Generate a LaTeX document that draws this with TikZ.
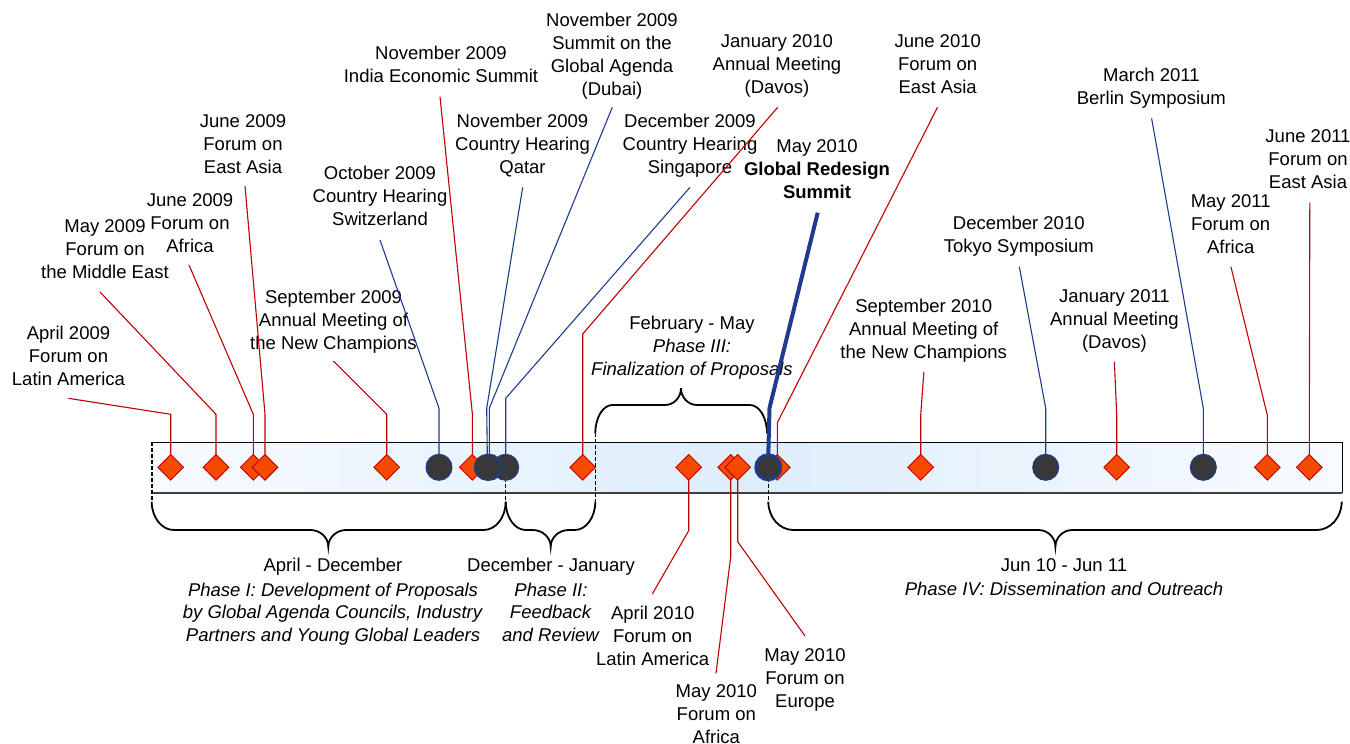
\documentclass[tikz,border=0pt]{standalone}
\usepackage{fontspec}
\setmainfont{Liberation Sans}
\usetikzlibrary{shapes.geometric}
\definecolor{dred}{HTML}{C00000}
\definecolor{dfill}{HTML}{F54A00}
\definecolor{navy}{HTML}{1F3B8F}
\definecolor{cfill}{HTML}{383838}
\definecolor{barmid}{HTML}{DDEDFA}
\definecolor{barside}{HTML}{F8FBFF}
\definecolor{barbot}{HTML}{404040}
\tikzset{
  lbl/.style={align=center, inner sep=0pt, anchor=north, font=\fontsize{18.5}{23}\selectfont},
  plbl/.style={align=center, inner sep=0pt, anchor=north, font=\fontsize{18.5}{22.5}\selectfont},
  dia/.style={shape=diamond, draw=dred, fill=dfill, minimum width=26pt, minimum height=26pt, inner sep=0pt, line width=0.9pt},
  evt/.style={circle, draw=navy, fill=cfill, minimum size=26pt, inner sep=0pt, line width=1pt},
  bigevt/.style={circle, draw=navy, fill=cfill, minimum size=25pt, inner sep=0pt, line width=3pt},
  rl/.style={draw=dred, line width=1.1pt},
  bl/.style={draw=navy, line width=1.1pt},
  thickbl/.style={draw=navy, line width=4pt, line join=round},
  brace/.style={draw=black, line width=1.8pt},
  sepline/.style={draw=black, line width=1.4pt, dash pattern=on 4pt off 2pt},
  bar/.style={anchor=north west, inner sep=0pt, minimum width=1189.7pt, minimum height=50pt,
    left color=barside, right color=barside, middle color=barmid},
}
\begin{document}
\begin{tikzpicture}[x=1pt,y=-1pt]
\useasboundingbox (0,0) rectangle (1350,744);
% bar
\node[bar] (bar) at (152,442.3) {};
\draw[black, line width=1pt] (bar.south east) -- (bar.north east) -- (bar.north west);
\draw[barbot, line width=2pt] (bar.south west) -- (bar.south east);
% separators
\draw[sepline] (152,442.3) -- (152,501.7);
\draw[sepline] (505.7,442.3) -- (505.7,501.7);
\draw[sepline] (595.3,433.3) -- (595.3,501.7);
\draw[sepline] (768.3,442.3) -- (768.3,501.7);
% braces
\draw[brace] (151.7,501.7) .. controls (151.7,517.3) and (161.6,530) .. (173.7,530) -- (310.3,530)
  .. controls (320.2,530) and (328.3,537.5) .. (328.3,546.7)
  .. controls (328.3,537.5) and (336.4,530) .. (346.3,530) -- (483.7,530)
  .. controls (495.8,530) and (505.7,517.3) .. (505.7,501.7);
\draw[brace] (505.7,501.7) .. controls (505.7,517.3) and (514.7,530) .. (525.7,530) -- (532.7,530)
  .. controls (542.6,530) and (550.7,537.5) .. (550.7,546.7)
  .. controls (550.7,537.5) and (558.8,530) .. (568.7,530) -- (575,530)
  .. controls (586,530) and (595.3,517.3) .. (595.3,501.7);
\draw[brace] (768.3,501.7) .. controls (768.3,517.3) and (779.5,530) .. (793.3,530) -- (1038.4,530)
  .. controls (1047.8,530) and (1055.4,537.5) .. (1055.4,546.7)
  .. controls (1055.4,537.5) and (1063,530) .. (1072.4,530) -- (1316.7,530)
  .. controls (1330.5,530) and (1341.7,517.3) .. (1341.7,501.7);
\draw[brace] (595.3,433.3) .. controls (595.3,417.7) and (602.9,405) .. (612.3,405) -- (665,405)
  .. controls (673.8,405) and (681,397.5) .. (681,388.3)
  .. controls (681,397.5) and (688.2,405) .. (697,405) -- (750,405)
  .. controls (759.4,405) and (767,417.7) .. (767,433.3);
% labels above
\node[lbl] (l1) at (68.5,326.3) {April 2009\\Forum on\\Latin America};
\node[lbl] (l2) at (105,219) {May 2009\\Forum on\\the Middle East};
\node[lbl] (l3) at (190,193) {June 2009\\Forum on\\Africa};
\node[lbl] (l4) at (243,114) {June 2009\\Forum on\\East Asia};
\node[lbl] (l5) at (333.5,289.7) {September 2009\\Annual Meeting of\\the New Champions};
\node[lbl] (l6) at (380,166.3) {October 2009\\Country Hearing\\Switzerland};
\node[lbl] (l7) at (441,46.3) {November 2009\\India Economic Summit};
\node[lbl] (l8) at (612,13) {November 2009\\Summit on the\\Global Agenda\\(Dubai)};
\node[lbl] (l9) at (522.5,113.7) {November 2009\\Country Hearing\\Qatar};
\node[lbl] (l10) at (690,113.7) {December 2009\\Country Hearing\\Singapore};
\node[lbl] (l11) at (777,34.7) {January 2010\\Annual Meeting\\(Davos)};
\node[lbl] (l12) at (817,139.7) {May 2010\\\textbf{Global Redesign}\\\textbf{Summit}};
\node[lbl] (l13) at (937.7,34.7) {June 2010\\Forum on\\East Asia};
\node[lbl] (l14) at (923.7,298.7) {September 2010\\Annual Meeting of\\the New Champions};
\node[lbl] (l15) at (1018.8,215.7) {December 2010\\Tokyo Symposium};
\node[lbl] (l16) at (1114.4,289) {January 2011\\Annual Meeting\\(Davos)};
\node[lbl] (l17) at (1151.4,68) {March 2011\\Berlin Symposium};
\node[lbl] (l18) at (1230.7,194) {May 2011\\Forum on\\Africa};
\node[lbl] (l19) at (1308,129.7) {June 2011\\Forum on\\East Asia};
% labels below
\node[lbl] (b1) at (652.7,605.7) {April 2010\\Forum on\\Latin America};
\node[lbl] (b2) at (716.3,684.7) {May 2010\\Forum on\\Africa};
\node[lbl] (b3) at (805,648) {May 2010\\Forum on\\Europe};
% phase labels
\node[plbl] (p1) at (333,558) {April - December\\[2pt]\textit{Phase I: Development of Proposals}\\\textit{by Global Agenda Councils, Industry}\\\textit{Partners and Young Global Leaders}};
\node[plbl] (p2) at (551,558) {December - January\\[2pt]\textit{Phase II:}\\\textit{Feedback}\\\textit{and Review}};
\node[lbl] (p3) at (692,316) {February - May\\\textit{Phase III:}\\\textit{Finalization of Proposals}};
\node[plbl] (p4) at (1064,558) {Jun 10 - Jun 11\\[2pt]\textit{Phase IV: Dissemination and Outreach}};
% leader start points and elbows
\coordinate (s1) at (68.3,398.3);   \coordinate (e1) at (170.7,414.3);
\coordinate (s2) at (100,292);      \coordinate (e2) at (216,414.3);
\coordinate (s3) at (189,265);      \coordinate (e3) at (253.3,414.3);
\coordinate (s4) at (245,186);      \coordinate (e4) at (265,414.3);
\coordinate (s5) at (333.3,361);    \coordinate (e5) at (386.7,414.3);
\coordinate (s6) at (380,240);      \coordinate (e6) at (439,408.3);
\coordinate (s7) at (440,96.7);     \coordinate (e7) at (472.3,413.3);
\coordinate (s8) at (612.3,107.3);  \coordinate (e8) at (489.3,408.3);
\coordinate (s9) at (522.7,187.3);  \coordinate (e9) at (486.7,408.3);
\coordinate (s10) at (690,187.3);   \coordinate (e10) at (505.7,398.3);
\coordinate (s11) at (777.7,107.3); \coordinate (e11) at (582.7,334);
\coordinate (s12) at (817.7,212.7); \coordinate (e12) at (769.5,408);
\coordinate (s13) at (937.5,107.3); \coordinate (e13) at (777.3,422.7);
\coordinate (s14) at (923.9,371.7); \coordinate (e14) at (920.7,415);
\coordinate (s15) at (1019.3,266.7);\coordinate (e15) at (1045.7,408.3);
\coordinate (s16) at (1114.4,361.7);\coordinate (e16) at (1116.7,415);
\coordinate (s17) at (1151.6,118.3);\coordinate (e17) at (1203.3,408.3);
\coordinate (s18) at (1230.9,266.7);\coordinate (e18) at (1267.3,415);
\coordinate (s19) at (1309.8,202.7);
\coordinate (f1) at (688.7,530.7);  \coordinate (t1) at (652.3,594);
\coordinate (f2) at (730.7,556.7);  \coordinate (t2) at (716,673.3);
\coordinate (f3) at (737.7,541.7);  \coordinate (t3) at (805,636);
% markers (positions)
\path (170.7,467.3) coordinate (q1) (216,467.3) coordinate (q2) (253.3,467.3) coordinate (q3)
      (265,467.3) coordinate (q4) (386.7,467.3) coordinate (q5) (439,467.3) coordinate (q6)
      (472.3,467.3) coordinate (q7) (489.3,467.3) coordinate (q8) (487.3,467.3) coordinate (q9)
      (505.7,467.3) coordinate (q10) (582.7,467.3) coordinate (q11) (688.7,467.3) coordinate (q12)
      (730.7,467.3) coordinate (q13) (737.7,467.3) coordinate (q14) (777.3,467.3) coordinate (q15)
      (768.3,467.3) coordinate (q16) (920.7,467.3) coordinate (q17) (1045.7,467.3) coordinate (q18)
      (1116.7,467.3) coordinate (q19) (1203.3,467.3) coordinate (q20) (1267.3,467.3) coordinate (q21)
      (1309.3,467.3) coordinate (q22);
% leader lines
\draw[rl] (s1) -- (e1) -- ([yshift=13pt]q1);
\draw[rl] (s2) -- (e2) -- ([yshift=13pt]q2);
\draw[rl] (s3) -- (e3) -- ([yshift=13pt]q3);
\draw[rl] (s4) -- (e4) -- ([yshift=13pt]q4);
\draw[rl] (s5) -- (e5) -- ([yshift=13pt]q5);
\draw[bl] (s6) -- (e6) -- ([yshift=13pt]q6);
\draw[rl] (s7) -- (e7) -- ([yshift=13pt]q7);
\draw[bl] (s8) -- (e8) -- ([yshift=13pt]q8);
\draw[bl] (s9) -- (e9) -- ([yshift=13pt]q9);
\draw[bl] (s10) -- (e10) -- ([yshift=13pt]q10);
\draw[rl] (s11) -- (e11) -- ([yshift=13pt]q11);
\draw[rl] (s13) -- (e13) -- ([yshift=13pt]q15);
\draw[rl] (s14) -- (e14) -- ([yshift=13pt]q17);
\draw[bl] (s15) -- (e15) -- ([yshift=13pt]q18);
\draw[rl] (s16) -- (e16) -- ([yshift=13pt]q19);
\draw[bl] (s17) -- (e17) -- ([yshift=13pt]q20);
\draw[rl] (s18) -- (e18) -- ([yshift=13pt]q21);
\draw[rl] (s19) -- ([yshift=13pt]q22);
\draw[rl] ([yshift=-13pt]q12) -- (f1) -- (t1);
\draw[rl] ([yshift=-13pt]q13) -- (f2) -- (t2);
\draw[rl] ([yshift=-13pt]q14) -- (f3) -- (t3);
\draw[thickbl] (s12) -- (e12) -- ([yshift=12pt]q16);
% markers
\node[dia] (m1) at (q1) {};
\node[dia] (m2) at (q2) {};
\node[dia] (m3) at (q3) {};
\node[dia] (m4) at (q4) {};
\node[dia] (m5) at (q5) {};
\node[evt] (m6) at (q6) {};
\node[dia] (m7) at (q7) {};
\node[evt] (m10) at (q10) {};
\node[evt] (m8) at (q8) {};
\node[evt] (m9) at (q9) {};
\node[dia] (m11) at (q11) {};
\node[dia] (m12) at (q12) {};
\node[dia] (m13) at (q13) {};
\node[dia] (m14) at (q14) {};
\node[dia] (m15) at (q15) {};
\node[bigevt] (m16) at (q16) {};
\node[dia] (m17) at (q17) {};
\node[evt] (m18) at (q18) {};
\node[dia] (m19) at (q19) {};
\node[evt] (m20) at (q20) {};
\node[dia] (m21) at (q21) {};
\node[dia] (m22) at (q22) {};
\end{tikzpicture}
\end{document}
